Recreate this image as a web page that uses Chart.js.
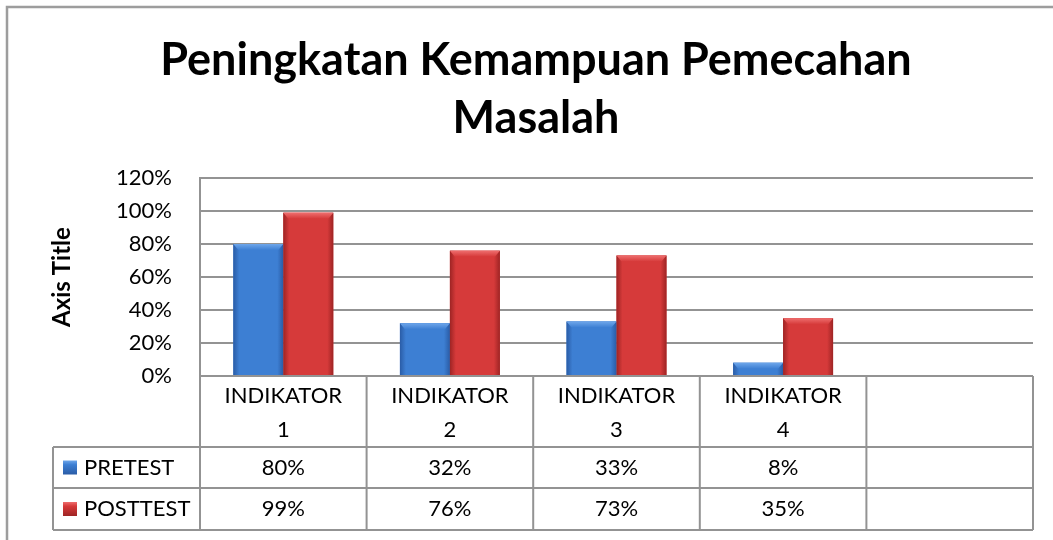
<!DOCTYPE html>
<html>
<head>
<meta charset="utf-8">
<script src="https://cdn.jsdelivr.net/npm/chart.js@4.4.1/dist/chart.umd.min.js"></script>
<style>
  html, body { margin: 0; padding: 0; background: #ffffff; }
  #wrap { position: relative; width: 1053px; height: 540px; }
</style>
</head>
<body>
<div id="wrap"><canvas id="c" width="1053" height="540"></canvas></div>
<script>
// ---- data ----
const categories = ["INDIKATOR 1", "INDIKATOR 2", "INDIKATOR 3", "INDIKATOR 4", ""];
const seriesNames = ["PRETEST", "POSTTEST"];
const pretest = [80, 32, 33, 8, null];
const posttest = [99, 76, 73, 35, null];
const yTicks = [0, 20, 40, 60, 80, 100, 120];
const titleLines = ["Peningkatan Kemampuan Pemecahan", "Masalah"];
const yAxisTitle = "Axis Title";

const FONT = "Lato, 'Liberation Sans', sans-serif";
const GRID = "#939393";
const colors = {
  PRETEST: { main: "#3d7fd3", dark: "#2a5ca6", light: "#6ea6ea" },
  POSTTEST: { main: "#d63a3a", dark: "#9e2424", light: "#ee6e6e" }
};

function barGradient(ctx, left, right, c) {
  const g = ctx.createLinearGradient(left, 0, right, 0);
  g.addColorStop(0, c.dark);
  g.addColorStop(0.12, c.main);
  g.addColorStop(0.5, c.main);
  g.addColorStop(0.88, c.main);
  g.addColorStop(1, c.dark);
  return g;
}

const tablePlugin = {
  id: 'tablePlugin',
  afterDatasetsDraw(chart) {
    const ctx = chart.ctx;
    chart.data.datasets.forEach((ds, di) => {
      const meta = chart.getDatasetMeta(di);
      const c = colors[ds.label];
      meta.data.forEach((bar) => {
        if (bar.skip || bar.y == null || isNaN(bar.y)) return;
        const left = bar.x - bar.width / 2, right = bar.x + bar.width / 2;
        const top = bar.y, bottom = bar.base;
        ctx.save();
        ctx.fillStyle = barGradient(ctx, left, right, c);
        ctx.fillRect(left, top, right - left, bottom - top);
        const bh = Math.min(6, bottom - top);
        const gt = ctx.createLinearGradient(0, top, 0, top + bh);
        gt.addColorStop(0, c.light);
        gt.addColorStop(1, c.main);
        ctx.fillStyle = gt;
        ctx.beginPath();
        ctx.moveTo(left, top);
        ctx.lineTo(right, top);
        ctx.lineTo(right - 5, top + bh);
        ctx.lineTo(left + 5, top + bh);
        ctx.closePath();
        ctx.fill();
        ctx.restore();
      });
    });
  },
  afterDraw(chart) {
    const ctx = chart.ctx;
    const x = chart.scales.x;
    const area = chart.chartArea;
    const n = categories.length;
    const colW = (area.right - area.left) / n;
    const edges = [];
    for (let i = 0; i <= n; i++) edges.push(area.left + i * colW);
    const headTop = area.bottom;
    const headBot = headTop + 71;
    const row1Bot = headBot + 41;
    const row2Bot = row1Bot + 42;
    const legLeft = 53;

    ctx.save();
    ctx.strokeStyle = GRID;
    ctx.lineWidth = 2;
    ctx.beginPath();
    edges.forEach(ex => { ctx.moveTo(ex, headTop); ctx.lineTo(ex, row2Bot); });
    ctx.moveTo(legLeft, headBot); ctx.lineTo(legLeft, row2Bot);
    [headBot, row1Bot, row2Bot].forEach(hy => { ctx.moveTo(legLeft, hy); ctx.lineTo(area.right, hy); });
    ctx.moveTo(area.left, headTop); ctx.lineTo(area.right, headTop);
    ctx.stroke();

    ctx.fillStyle = "#000";
    ctx.font = "22px " + FONT;
    ctx.textAlign = "center";
    ctx.textBaseline = "middle";
    categories.forEach((cat, i) => {
      if (!cat) return;
      const cx = x.getPixelForValue(i);
      const parts = cat.split(" ");
      ctx.fillText(parts[0], cx, headTop + 20);
      ctx.fillText(parts.slice(1).join(" "), cx, headTop + 54);
    });
    const rows = [[pretest, (headBot + row1Bot) / 2], [posttest, (row1Bot + row2Bot) / 2]];
    rows.forEach(([arr, cy], ri) => {
      arr.forEach((v, i) => {
        if (v == null) return;
        ctx.textAlign = "center";
        ctx.fillText(v + "%", x.getPixelForValue(i), cy);
      });
      const c = colors[seriesNames[ri]];
      const kx = 63, ky = cy - 7, ks = 14;
      const g = ctx.createLinearGradient(0, ky, 0, ky + ks);
      g.addColorStop(0, c.light);
      g.addColorStop(0.3, c.main);
      g.addColorStop(1, c.dark);
      ctx.fillStyle = g;
      ctx.fillRect(kx, ky, ks, ks);
      ctx.fillStyle = "#000";
      ctx.textAlign = "left";
      ctx.fillText(seriesNames[ri], 84, cy);
    });

    ctx.strokeStyle = "#9d9d9d";
    ctx.lineWidth = 2.5;
    ctx.beginPath();
    ctx.moveTo(7, 540); ctx.lineTo(7, 7); ctx.lineTo(1053, 7);
    ctx.stroke();
    ctx.restore();
  }
};

new Chart(document.getElementById('c'), {
  type: 'bar',
  data: {
    labels: categories,
    datasets: [
      { label: seriesNames[0], data: pretest, backgroundColor: colors.PRETEST.main },
      { label: seriesNames[1], data: posttest, backgroundColor: colors.POSTTEST.main }
    ]
  },
  options: {
    responsive: false,
    animation: false,
    devicePixelRatio: 1,
    layout: { padding: { left: 39, right: 20, top: 0, bottom: 164 } },
    datasets: { bar: { categoryPercentage: 0.6, barPercentage: 1.0 } },
    plugins: {
      legend: { display: false },
      tooltip: { enabled: false },
      title: {
        display: true,
        text: titleLines,
        color: "#000",
        font: { family: FONT, size: 45, weight: 'bold', lineHeight: 1.29 },
        padding: { top: 31, bottom: 31 }
      }
    },
    scales: {
      x: { display: false, grid: { display: false } },
      y: {
        min: 0, max: 120,
        afterBuildTicks(scale) { scale.ticks = yTicks.map(v => ({ value: v })); },
        afterFit(scale) { scale.width = 161; },
        ticks: {
          color: "#000",
          font: { family: FONT, size: 22 },
          padding: 28,
          callback: (v) => v + "%"
        },
        grid: { color: GRID, lineWidth: 2, drawTicks: false },
        border: { display: true, color: GRID, width: 2 },
        title: {
          display: true,
          text: yAxisTitle,
          color: "#000",
          font: { family: FONT, size: 24, weight: 'bold' },
          padding: { top: 9, bottom: 0 }
        }
      }
    }
  },
  plugins: [tablePlugin]
});
</script>
</body>
</html>
